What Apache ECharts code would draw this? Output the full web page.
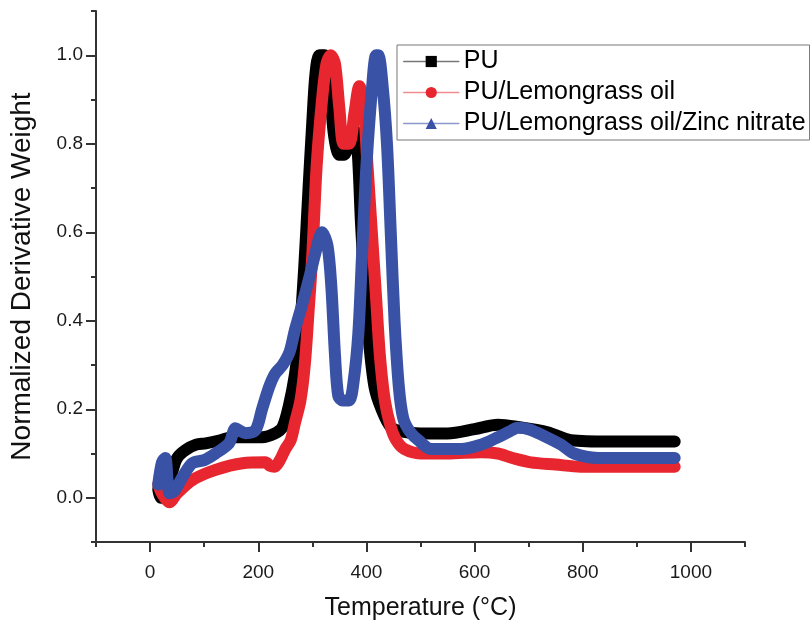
<!DOCTYPE html>
<html>
<head>
<meta charset="utf-8">
<script src="https://cdn.jsdelivr.net/npm/echarts@6/dist/echarts.min.js"></script>
<style>html,body{margin:0;padding:0;background:#fff}#c{width:810px;height:626px}</style>
</head>
<body>
<div id="c"></div>
<script>
const seriesNames = ['PU', 'PU/Lemongrass oil', 'PU/Lemongrass oil/Zinc nitrate'];
const xTicks = [0, 200, 400, 600, 800, 1000];
const yTicks = [0.0, 0.2, 0.4, 0.6, 0.8, 1.0];

const puTemp = [15, 20, 28, 35, 42, 50, 66, 85, 103, 130, 152, 180, 207, 230, 245, 257, 268, 276, 285, 293, 300, 306, 313, 323, 332, 340, 350, 358, 368, 378, 384, 390, 398, 405, 415, 428, 445, 465, 500, 550, 600, 643, 680, 735, 778, 850, 920, 970];
const puVal  = [0.02, 0.0, 0.0, 0.03, 0.063, 0.09, 0.108, 0.12, 0.123, 0.13, 0.137, 0.137, 0.137, 0.145, 0.16, 0.21, 0.28, 0.36, 0.52, 0.7, 0.85, 0.96, 1.0, 1.0, 0.93, 0.82, 0.775, 0.775, 0.8, 0.83, 0.78, 0.62, 0.45, 0.35, 0.25, 0.2, 0.16, 0.15, 0.145, 0.145, 0.155, 0.165, 0.16, 0.148, 0.13, 0.127, 0.127, 0.127];

const lgTemp = [15, 22, 36, 50, 78, 121, 171, 213, 222, 230, 240, 250, 260, 268, 278, 286, 293, 300, 308, 318, 326, 334, 342, 350, 358, 368, 378, 387, 394, 402, 410, 418, 425, 434, 445, 455, 470, 500, 550, 612, 643, 670, 704, 750, 796, 880, 970];
const lgVal  = [0.03, 0.01, -0.01, 0.01, 0.04, 0.063, 0.078, 0.08, 0.072, 0.07, 0.085, 0.11, 0.13, 0.17, 0.22, 0.3, 0.42, 0.55, 0.75, 0.9, 0.98, 1.0, 0.98, 0.88, 0.8, 0.8, 0.87, 0.93, 0.9, 0.75, 0.6, 0.45, 0.32, 0.22, 0.16, 0.13, 0.11, 0.1, 0.1, 0.103, 0.1, 0.09, 0.08, 0.075, 0.07, 0.07, 0.07];

const znTemp = [15, 22, 28, 36, 45, 60, 78, 100, 121, 146, 158, 168, 176, 195, 207, 220, 231, 245, 258, 268, 282, 295, 305, 318, 328, 335, 342, 348, 356, 368, 376, 385, 392, 400, 410, 418, 422, 430, 438, 445, 452, 460, 468, 480, 496, 520, 575, 612, 640, 665, 680, 700, 728, 760, 784, 828, 900, 970];
const znVal  = [0.03, 0.08, 0.09, 0.01, 0.015, 0.047, 0.078, 0.085, 0.1, 0.123, 0.157, 0.15, 0.146, 0.153, 0.2, 0.25, 0.28, 0.3, 0.33, 0.38, 0.44, 0.5, 0.55, 0.6, 0.57, 0.48, 0.32, 0.23, 0.22, 0.22, 0.26, 0.37, 0.55, 0.75, 0.92, 1.0, 1.0, 0.93, 0.8, 0.6, 0.4, 0.25, 0.18, 0.15, 0.13, 0.11, 0.11, 0.12, 0.135, 0.15, 0.158, 0.155, 0.14, 0.12, 0.10, 0.09, 0.09, 0.09];

const colors = ['#000000', '#e8262f', '#3a52a6'];
const legendLineColors = ['#777777', '#f08a8e', '#8a96cc'];
const symbols = ['rect', 'circle', 'triangle'];

function zip(xs, ys) { return xs.map((x, i) => [x, ys[i]]); }
const datasets = [zip(puTemp, puVal), zip(lgTemp, lgVal), zip(znTemp, znVal)];

const FONT = '"Liberation Sans", Arial, sans-serif';
const chart = echarts.init(document.getElementById('c'), null, { renderer: 'canvas' });

const tickStyle = { color: '#333', width: 2 };

chart.setOption({
  animation: false,
  backgroundColor: '#ffffff',
  grid: { left: 93, right: 65, top: 11, bottom: 84, containLabel: false },
  legend: {
    orient: 'vertical',
    left: 397, top: 45,
    padding: [4, 4, 4, 6],
    borderColor: '#777777', borderWidth: 1,
    itemWidth: 55, itemHeight: 14, itemGap: 6,
    textStyle: { fontFamily: FONT, fontSize: 25, color: '#000', lineHeight: 24 },
    lineStyle: { width: 1.5 },
    data: seriesNames.map((n, i) => ({ name: n, lineStyle: { color: legendLineColors[i], width: 1.5 }, itemStyle: { color: colors[i] } }))
  },
  xAxis: [{
    type: 'value', min: -100, max: 1100, interval: 100, position: 'bottom',
    name: 'Temperature (°C)', nameLocation: 'middle', nameGap: 54,
    nameTextStyle: { fontFamily: FONT, fontSize: 25, color: '#111' },
    axisLine: { show: true, onZero: false, lineStyle: tickStyle },
    axisTick: { show: true, length: 10, inside: false, lineStyle: tickStyle, customValues: xTicks },
    axisLabel: { fontFamily: FONT, fontSize: 19, color: '#1a1a1a', margin: 21,
      customValues: xTicks, formatter: v => String(v) },
    splitLine: { show: false }
  }, {
    type: 'value', min: -100, max: 1100, interval: 100, position: 'bottom',
    axisLine: { show: false, onZero: false },
    axisTick: { show: true, length: 5, inside: false, lineStyle: tickStyle },
    axisLabel: { show: false },
    splitLine: { show: false }
  }],
  yAxis: [{
    type: 'value', min: -0.1, max: 1.1, interval: 0.1, position: 'left',
    name: 'Normalized Derivative Weight', nameLocation: 'middle', nameGap: 60,
    nameTextStyle: { fontFamily: FONT, fontSize: 28, color: '#111' },
    axisLine: { show: true, onZero: false, lineStyle: tickStyle },
    axisTick: { show: true, length: 10, inside: false, lineStyle: tickStyle, customValues: yTicks },
    axisLabel: { fontFamily: FONT, fontSize: 19, color: '#1a1a1a', margin: 13,
      customValues: yTicks, formatter: v => v.toFixed(1) },
    splitLine: { show: false }
  }, {
    type: 'value', min: -0.1, max: 1.1, interval: 0.1, position: 'left',
    axisLine: { show: false, onZero: false },
    axisTick: { show: true, length: 5, inside: false, lineStyle: tickStyle },
    axisLabel: { show: false },
    splitLine: { show: false }
  }],
  series: seriesNames.map((n, i) => ({
    name: n, type: 'line', data: datasets[i], xAxisIndex: 0, yAxisIndex: 0,
    symbol: symbols[i], showSymbol: false, symbolSize: 10,
    smooth: 0.3, z: 2 + i,
    itemStyle: { color: colors[i] },
    lineStyle: { color: colors[i], width: 12, cap: 'round', join: 'round' },
    emphasis: { disabled: true }
  }))
});
</script>
</body>
</html>
